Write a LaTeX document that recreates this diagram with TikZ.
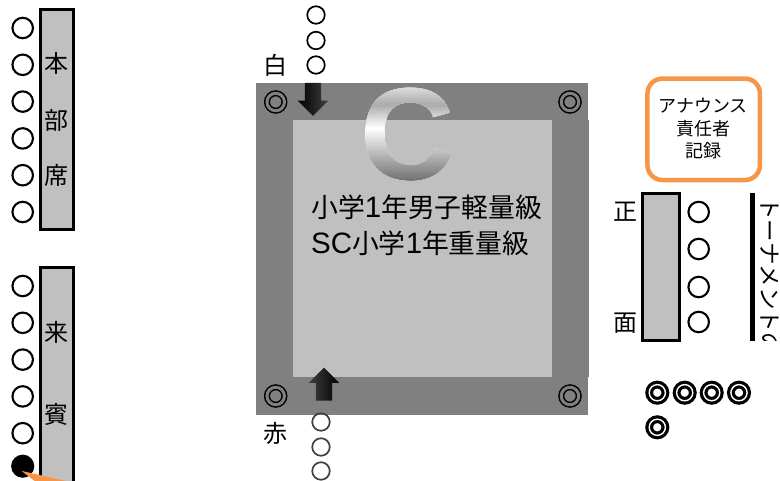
\documentclass[tikz,border=0pt]{standalone}
\usepackage{fontspec}
\usepackage{xcolor}
\setmainfont{Liberation Sans}
\newfontfamily\jpfont{Noto Sans CJK JP}
\newcommand{\jptext}[1]{{\jpfont\fontsize{26.8}{35.5}\selectfont #1}}
\usetikzlibrary{arrows.meta,shapes.arrows,positioning}
\definecolor{matdark}{RGB}{128,128,128}
\definecolor{matlight}{RGB}{192,192,192}
\definecolor{noticeorange}{RGB}{247,150,70}
\tikzset{
	seat/.style={
		circle,
		draw,
		line width=2.1pt,
		minimum size=20.5pt,
		inner sep=0pt,
	},
	waiter/.style={
		seat,
		line width=1.7pt,
		minimum size=17.5pt,
	},
	tablebar/.style={
		rectangle,
		draw,
		line width=3pt,
		fill=matlight,
		minimum width=32.7pt,
		inner sep=0pt,
	},
	corner/.style={
		circle,
		draw,
		double=matdark,
		double distance=3pt,
		line width=1.5pt,
		minimum size=17.5pt,
		inner sep=0pt,
	},
	spare/.style={
		circle,
		draw,
		double=white,
		double distance=1.4pt,
		line width=3.2pt,
		minimum size=16.2pt,
		inner sep=0pt,
	},
	bigkanji/.style={
		inner sep=0pt,
		font=\jpfont\fontsize{24}{24}\selectfont,
	},
	callarrow/.style={
		single arrow,
		minimum width=30pt,
		minimum height=33pt,
		single arrow head extend=7pt,
		single arrow head indent=0pt,
		inner sep=8pt,
	},
}
\begin{document}
\begin{tikzpicture}[x=1pt,y=-1pt,node distance=36.8pt,on grid]
	\useasboundingbox (0,0) rectangle (780,481);

	\node [tablebar,minimum height=220pt] (honbu) at (56.9,119.6) {};
	\node [bigkanji] (hon) at (57,63) {本};
	\node [bigkanji] (bu) at (57,120) {部};
	\node [bigkanji] (seki) at (57,175) {席};

	\node [seat] (a1) at (22.7,28) {};
	\node [seat,below=of a1] (a2) {};
	\node [seat,below=of a2] (a3) {};
	\node [seat,below=of a3] (a4) {};
	\node [seat,below=of a4] (a5) {};
	\node [seat,below=of a5] (a6) {};

	\node [tablebar,minimum height=230pt] (raihin) at (56.9,382.5) {};
	\node [bigkanji] (rai) at (57,332) {来};
	\node [bigkanji] (hin) at (57,414) {賓};

	\node [seat] (b1) at (22.7,286) {};
	\node [seat,below=of b1] (b2) {};
	\node [seat,below=of b2] (b3) {};
	\node [seat,below=of b3] (b4) {};
	\node [seat,below=of b4] (b5) {};
	\node [seat,fill=black,minimum size=21pt,below=33pt of b5] (b6) {};

	\coordinate (pointerfoot) at (120,517);
	\draw [
	  noticeorange,
	  line width=8pt,
	  -{Triangle[length=85pt,width=34pt]},
	] (pointerfoot) -- ([xshift=-2.7pt,yshift=-4pt]b6.center);

	\node [
	  rectangle,
	  fill=matdark,
	  minimum width=332pt,
	  minimum height=332pt,
	  inner sep=0pt,
	] (mat) at (422,249) {};
	\node [
	  rectangle,
	  fill=matdark,
	  minimum width=37pt,
	  minimum height=257pt,
	  inner sep=0pt,
	] (matedge) at (570.5,248.5) {};
	\node [
	  rectangle,
	  fill=matlight,
	  minimum width=259pt,
	  minimum height=257pt,
	  inner sep=0pt,
	] (area) at (422.5,248.5) {};

	\foreach \rowy in {84,86,...,184} {
		\pgfmathsetmacro{\rowdark}{\rowy<105 ? 12+(\rowy-86)*21/19 : (\rowy<128 ? 33-(\rowy-105)*33/23 : (\rowy-128)*58/55)}
		\begin{scope}
			\clip (350,\rowy) rectangle (470,190);
			\node [
			  text=black!\rowdark,
			  inner sep=0pt,
			  font=\bfseries\fontsize{131}{131}\selectfont,
			] (letter) at (408,134.5) {C};
		\end{scope}
	}

	\node [corner] (c1) at (275.7,102) {};
	\node [corner] (c2) at (570,102) {};
	\node [corner] (c3) at (275.7,396) {};
	\node [corner] (c4) at (570,396) {};

	\node [bigkanji] (shiro) at (275.7,65) {白};
	\node [bigkanji] (aka) at (275.7,433) {赤};

	\node [waiter] (w1) at (316,15) {};
	\node [waiter] (w2) at (316,40.5) {};
	\node [waiter] (w3) at (316,65) {};

	\node [waiter,draw=black!75] (r1) at (321,422) {};
	\node [waiter,draw=black!75] (r2) at (321,447) {};
	\node [waiter,draw=black!75] (r3) at (321,471) {};

	\node [
	  callarrow,
	  shape border rotate=270,
	  left color=black,
	  right color=black!75,
	] (whitearrow) at (313,95.3) {};
	\node [
	  callarrow,
	  shape border rotate=90,
	  left color=black!75,
	  right color=black,
	] (redarrow) at (324,388.3) {};

	\node [
	  anchor=west,
	  align=left,
	  inner sep=0pt,
	  font=\fontsize{29.5}{35.5}\selectfont,
	] (classes) at (311,225.5) {\jptext{小学}1\jptext{年男子軽量級}\\SC\jptext{小学}1\jptext{年重量級}};

	\node [
	  rectangle,
	  rounded corners=15pt,
	  draw=noticeorange,
	  line width=4.5pt,
	  minimum width=112.5pt,
	  minimum height=101.5pt,
	] (notice) at (703.7,129.3) {};
	\node [font=\jpfont\fontsize{18}{18}\selectfont,inner sep=0pt] (n1) at (703,105.7) {アナウンス};
	\node [font=\jpfont\fontsize{18}{18}\selectfont,inner sep=0pt] (n2) at (703,129) {責任者};
	\node [font=\jpfont\fontsize{18}{18}\selectfont,inner sep=0pt] (n3) at (703,150.7) {記録};

	\node [tablebar,minimum width=37pt,minimum height=147pt] (front) at (661,267) {};
	\node [bigkanji] (sho) at (625,212) {正};
	\node [bigkanji] (men) at (625,323) {面};

	\node [seat] (d1) at (698.7,212) {};
	\node [seat] (d2) at (698.7,249) {};
	\node [seat] (d3) at (698.7,287) {};
	\node [seat] (d4) at (698.7,322) {};

	\node [
	  rectangle,
	  fill=black,
	  minimum width=5pt,
	  minimum height=148pt,
	  inner sep=0pt,
	] (wall) at (752.5,267) {};
	\begin{scope}
		\clip (757,193) rectangle (780,341);
		\node [
		  rotate=-90,
		  anchor=west,
		  inner sep=0pt,
		  font=\jpfont\fontsize{22.5}{24}\selectfont,
		] (tournament) at (770,197) {トーナメントの};
	\end{scope}

	\node [spare] (e1) at (657.3,392.7) {};
	\node [spare] (e2) at (684.7,392.7) {};
	\node [spare] (e3) at (711.7,392.7) {};
	\node [spare] (e4) at (739,392.7) {};
	\node [spare] (e5) at (657.3,427.3) {};
\end{tikzpicture}
\end{document}
